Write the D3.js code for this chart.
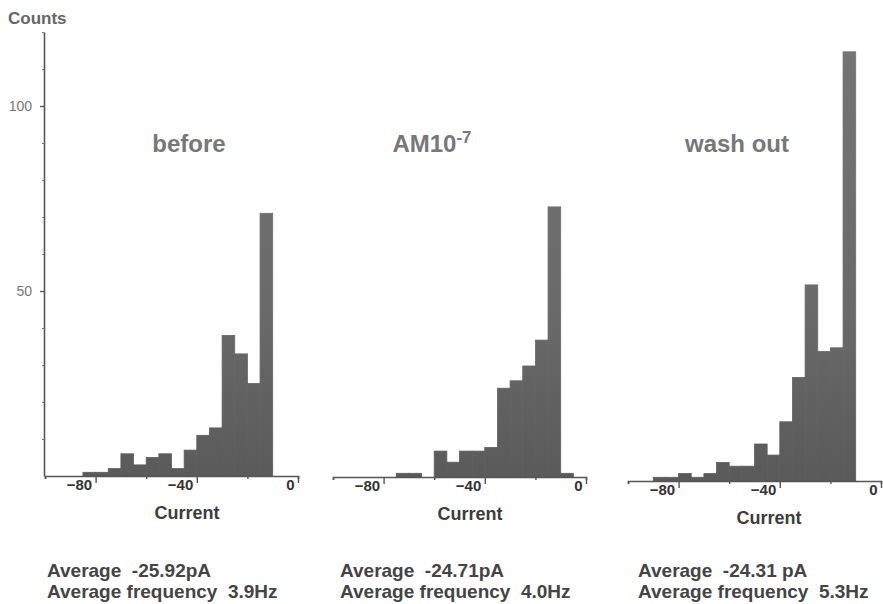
<!DOCTYPE html>
<html>
<head>
<meta charset="utf-8">
<script src="https://cdn.jsdelivr.net/npm/d3@7"></script>
<style>
  body { margin: 0; background: #fff; }
  svg text { font-family: "Liberation Sans", Arial, sans-serif; }
</style>
</head>
<body>
<div class="canvas"></div>
<script>
// lower edge of each 5 pA bin, and counts per bin
var beforeBins = [-85, -80, -75, -70, -65, -60, -55, -50, -45, -40, -35, -30, -25, -20, -15];
var beforeCounts = [1, 1, 2, 6, 3, 5, 6, 2, 7, 11, 13, 38, 33, 25, 71];

var amBins = [-75, -70, -65, -60, -55, -50, -45, -40, -35, -30, -25, -20, -15, -10];
var amCounts = [1, 1, 0, 7, 4, 7, 7, 8, 24, 26, 30, 37, 73, 1];

var washBins = [-90, -85, -80, -75, -70, -65, -60, -55, -50, -45, -40, -35, -30, -25, -20, -15];
var washCounts = [1, 1, 2, 1, 2, 5, 4, 4, 10, 7, 16, 28, 53, 35, 36, 116];

var titles = ["before", "AM10", "wash out"];
var averages = ["Average  -25.92pA", "Average  -24.71pA", "Average  -24.31 pA"];
var frequencies = ["Average frequency  3.9Hz", "Average frequency  4.0Hz", "Average frequency  5.3Hz"];

var xMajorTicks = [-80, -40, 0];
var xMinorTicks = [-100, -60, -20];
var yMajorTicks = [50, 100];
var yMinorTicks = [10, 20, 30, 40, 60, 70, 80, 90, 110, 120];

var width = 883;
var height = 604;
var binWidth = 5;

var canvas = d3.select(".canvas")
  .append("svg")
  .attr("width", width)
  .attr("height", height);

var grad = canvas.append("defs").append("linearGradient")
  .attr("id", "barfill")
  .attr("gradientUnits", "userSpaceOnUse")
  .attr("x1", 0).attr("y1", 40).attr("x2", 0).attr("y2", 480);
grad.append("stop").attr("offset", "0%").attr("stop-color", "#747474");
grad.append("stop").attr("offset", "60%").attr("stop-color", "#6a6a6a");
grad.append("stop").attr("offset", "100%").attr("stop-color", "#5a5a5a");

// panel placement (scan is a bit skewed, so baselines differ)
var panels = [
  {bins: beforeBins, counts: beforeCounts, left: 45, base: 476, titleX: 189, labelX: 187, textX: 47},
  {bins: amBins, counts: amCounts, left: 333, base: 477, titleX: 432, labelX: 470, textX: 340},
  {bins: washBins, counts: washCounts, left: 628, base: 481, titleX: 737, labelX: 769, textX: 638}
];

panels.forEach(function(p, i) {
  var x = d3.scaleLinear().domain([-100, 0]).range([p.left, p.left + 253]);
  var y = d3.scaleLinear().domain([0, 120]).range([p.base, p.base - 444]);

  var data = p.bins.map(function(b, j) { return {lo: b, count: p.counts[j]}; });

  var g = canvas.append("g");

  g.selectAll(".bar")
    .data(data)
    .enter()
    .append("rect")
    .attr("class", "bar")
    .attr("x", function(d) { return x(d.lo); })
    .attr("width", function(d) { return x(d.lo + binWidth) - x(d.lo); })
    .attr("y", function(d) { return y(d.count); })
    .attr("height", function(d) { return y(0) - y(d.count); })
    .attr("fill", "url(#barfill)")
    .attr("stroke", "url(#barfill)")
    .attr("stroke-width", 0.8);

  var xAxis = g.append("g")
    .attr("transform", "translate(0," + p.base + ")")
    .call(d3.axisBottom(x).tickValues(xMajorTicks).tickSize(7).tickSizeOuter(3).tickFormat(d3.format("d")));
  xAxis.select(".domain").attr("stroke", "#555").attr("stroke-width", 1.6);
  xAxis.selectAll(".tick line").attr("stroke", "#555").attr("stroke-width", 1.4);
  xAxis.selectAll(".tick text")
    .attr("x", -4)
    .attr("y", 3)
    .attr("text-anchor", "end")
    .attr("fill", "#333")
    .style("font-size", "15px")
    .style("font-weight", "bold");

  var xMinor = g.append("g")
    .attr("transform", "translate(0," + p.base + ")")
    .call(d3.axisBottom(x).tickValues(xMinorTicks).tickSize(3).tickFormat(""));
  xMinor.select(".domain").remove();
  xMinor.selectAll(".tick line").attr("stroke", "#555").attr("stroke-width", 1.4);

  g.append("text")
    .attr("x", p.labelX)
    .attr("y", p.base + 43)
    .attr("text-anchor", "middle")
    .attr("fill", "#3c3c3c")
    .style("font-size", "18px")
    .style("font-weight", "bold")
    .text("Current");

  var title = g.append("text")
    .attr("x", p.titleX)
    .attr("y", 152)
    .attr("text-anchor", "middle")
    .attr("fill", "#777")
    .style("font-size", "24px")
    .style("font-weight", "bold")
    .text(titles[i]);
  if (i === 1) {
    title.append("tspan")
      .attr("dy", -9)
      .style("font-size", "17px")
      .text("-7");
  }

  g.append("text")
    .attr("x", p.textX)
    .attr("y", 577)
    .attr("fill", "#444")
    .style("font-size", "19px")
    .style("font-weight", "bold")
    .style("white-space", "pre")
    .text(averages[i]);
  g.append("text")
    .attr("x", p.textX)
    .attr("y", 598)
    .attr("fill", "#444")
    .style("font-size", "19px")
    .style("font-weight", "bold")
    .style("white-space", "pre")
    .text(frequencies[i]);

  // only the first panel carries the count axis
  if (i === 0) {
    var yAxis = g.append("g")
      .attr("transform", "translate(" + (p.left - 1) + ",0)")
      .call(d3.axisLeft(y).tickValues(yMajorTicks).tickSize(4).tickSizeOuter(0).tickPadding(8));
    yAxis.select(".domain").attr("stroke", "#555").attr("stroke-width", 1.6);
    yAxis.selectAll(".tick line").attr("stroke", "#555").attr("stroke-width", 1.4);
    yAxis.selectAll(".tick text")
      .attr("fill", "#777")
      .style("font-size", "14px");

    var yMinor = g.append("g")
      .attr("transform", "translate(" + (p.left - 1) + ",0)")
      .call(d3.axisLeft(y).tickValues(yMinorTicks).tickSize(2).tickFormat(""));
    yMinor.select(".domain").remove();
    yMinor.selectAll(".tick line").attr("stroke", "#777");

    canvas.append("text")
      .attr("x", 8)
      .attr("y", 24)
      .attr("fill", "#666")
      .style("font-size", "17px")
      .style("font-weight", "bold")
      .text("Counts");
  }
});
</script>
</body>
</html>
